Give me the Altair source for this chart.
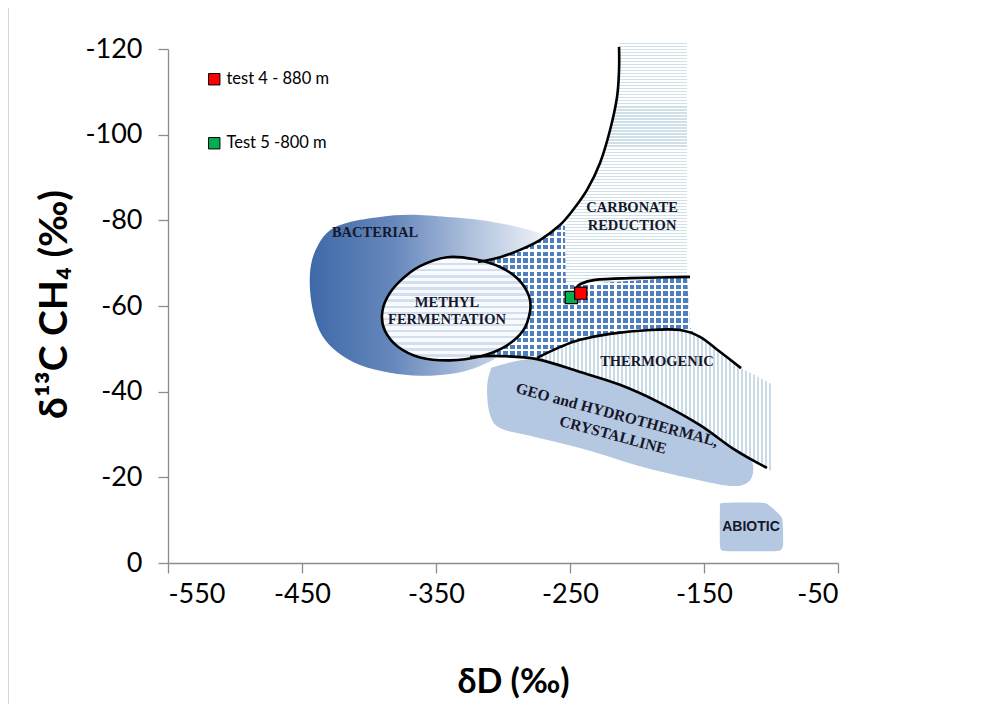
import altair as alt
import pandas as pd

# ---------------- axis ticks ----------------
x_ticks = [-550, -450, -350, -250, -150, -50]
y_ticks = [-120, -100, -80, -60, -40, -20, 0]

# ---------------- region outlines (dD, d13C) ----------------
bact_x = [-272.4, -292.5, -317.2, -341.8, -369.4, -391.8, -414.2, -429.1, -438.1, -443.3, -444.0, -441.0,
          -435.1, -423.9, -406.7, -384.3, -361.9, -339.6, -320.9, -302.2, -287.3, -272.4, -264.9, -266.4]
bact_y = [-77.0, -78.7, -80.1, -80.8, -81.3, -80.8, -79.6, -77.7, -74.2, -69.6, -63.7, -57.9,
          -53.2, -49.3, -46.2, -44.4, -43.7, -44.1, -45.5, -48.6, -54.4, -63.7, -70.7, -75.4]

dots_x = [-318.7, -302.2, -287.3, -272.4, -257.5, -253.7, -253.0, -242.5, -162.7, -160.4, -150.7,
          -167.9, -220.1, -274.6, -302.2, -324.6, -302.2]
dots_y = [-70.3, -71.4, -73.1, -75.4, -78.9, -78.7, -65.1, -65.1, -66.8, -54.9, -50.9,
          -53.9, -53.5, -47.9, -48.3, -48.1, -61.4]

carb_x = [-213.4, -162.7, -162.7, -242.5, -253.0, -253.7, -247.8, -237.3, -227.6, -220.1, -214.9, -213.4]
carb_y = [-121.4, -121.4, -66.8, -65.1, -65.1, -78.7, -82.4, -87.1, -93.4, -101.1, -108.8, -115.1]

thermo_x = [-274.6, -257.5, -242.5, -220.1, -190.3, -167.9, -153.0, -138.1, -122.4, -98.5, -98.5,
            -103.0, -126.9, -153.0, -182.8, -212.7, -242.5]
thermo_y = [-47.9, -50.4, -52.1, -53.5, -54.4, -54.4, -52.8, -49.3, -45.5, -41.6, -21.0,
            -22.2, -26.4, -32.2, -37.4, -41.6, -44.6]

geo_x = [-304.5, -274.6, -242.5, -197.8, -160.4, -130.6, -115.7, -113.4, -117.9, -130.6, -160.4,
         -197.8, -237.3, -279.9, -302.2, -309.7, -311.9, -309.7]
geo_y = [-46.0, -47.6, -44.6, -39.7, -33.9, -27.6, -24.5, -21.2, -18.7, -18.0, -19.8,
         -22.6, -26.4, -29.7, -31.5, -34.6, -40.4, -44.6]

abio_x = [-136.6, -104.5, -91.8, -91.0, -94.8, -135.1, -138.1, -138.1]
abio_y = [-14.0, -14.0, -10.5, -4.2, -2.8, -2.8, -4.2, -12.8]

meth_x = [-341.8, -320.9, -302.2, -288.8, -280.6, -279.9, -285.1, -298.5, -317.2, -339.6, -361.9,
          -378.4, -388.1, -390.3, -386.6, -376.9, -361.9]
meth_y = [-71.4, -70.9, -69.1, -66.3, -62.3, -58.6, -54.2, -50.5, -48.2, -47.3, -48.0,
          -50.5, -54.2, -57.9, -61.9, -65.8, -69.3]

# ---------------- boundary curves ----------------
carb_line_x = [-318.7, -302.2, -287.3, -272.4, -257.5, -247.8, -237.3, -227.6, -220.1, -214.9, -213.4, -213.4]
carb_line_y = [-70.3, -71.4, -73.1, -75.4, -78.9, -82.4, -87.1, -93.4, -101.1, -108.8, -115.1, -120.5]

short_line_x = [-245.5, -242.5, -231.3, -205.2, -160.4]
short_line_y = [-64.0, -65.1, -66.1, -66.5, -66.8]

thermo_line_x = [-274.6, -257.5, -242.5, -220.1, -190.3, -167.9, -153.0, -138.1, -122.4]
thermo_line_y = [-47.9, -50.4, -52.1, -53.5, -54.4, -54.4, -52.8, -49.3, -45.5]

geo_line_x = [-324.6, -302.2, -274.6, -242.5, -212.7, -182.8, -153.0, -126.9, -103.0]
geo_line_y = [-48.1, -48.3, -47.6, -44.6, -41.6, -37.4, -32.2, -26.4, -22.2]

# ---------------- labels ----------------
serif_labels = ["BACTERIAL", "METHYL", "FERMENTATION", "CARBONATE", "REDUCTION", "THERMOGENIC"]
serif_lx = [-395.5, -341.8, -341.8, -203.7, -203.7, -185.1]
serif_ly = [-77.0, -60.7, -56.7, -82.9, -78.7, -46.9]

geo_labels = ["GEO and HYDROTHERMAL,", "CRYSTALLINE"]
geo_lx = [-214.9, -217.9]
geo_ly = [-34.6, -29.9]

abio_label = ["ABIOTIC"]
abio_lx = [-114.9]
abio_ly = [-8.4]

# ---------------- samples ----------------
sample_names = ["test 4 - 880 m", "Test 5 -800 m"]
sample_dD = [-242, -249]
sample_d13C = [-63, -62]
sample_colors = ["#ff0000", "#00b050"]

# ---------------- encodings ----------------
AX_FONT = "Lato, Open Sans, DejaVu Sans"

X = alt.X("x:Q",
          scale=alt.Scale(domain=[-550, -50], nice=False, zero=False),
          axis=alt.Axis(values=x_ticks, title="δD (‰)", grid=False,
                        labelExpr="'' + datum.value", labelFontSize=27, labelFont=AX_FONT,
                        labelColor="black", labelPadding=8, tickSize=10, tickColor="#8c8c8c",
                        domainColor="#8c8c8c", domainWidth=1.3, tickWidth=1.3,
                        titleFont=AX_FONT, titleFontSize=34, titleFontWeight="bold",
                        titleColor="black", titleX=345, titleY=102, titleBaseline="top"))
Y = alt.Y("y:Q",
          scale=alt.Scale(domain=[-120, 0], nice=False, zero=False, reverse=True),
          axis=alt.Axis(values=y_ticks, title="δ¹³C CH₄ (‰)", grid=False,
                        labelExpr="'' + datum.value", labelFontSize=27, labelFont=AX_FONT,
                        labelColor="black", labelPadding=16, tickSize=10, tickColor="#8c8c8c",
                        domainColor="#8c8c8c", domainWidth=1.3, tickWidth=1.3,
                        titleFont=AX_FONT, titleFontSize=39, titleFontWeight="bold",
                        titleColor="black", titleX=-114, titleY=255, titleBaseline="middle"))


def frame(xs, ys):
    return pd.DataFrame({"x": xs, "y": ys, "i": list(range(len(xs)))})


def shape(xs, ys, **kw):
    return alt.Chart(frame(xs, ys)).mark_line(**kw).encode(x=X, y=Y, order=alt.Order("i:Q"))


def stripes(n, on, off, frac, horizontal_bands):
    """Fill style: n hard-edged bands across the shape's bounding box."""
    stops = []
    for k in range(n):
        a, b, c = k / n, (k + frac) / n, (k + 1) / n
        stops += [alt.GradientStop(color=on, offset=a), alt.GradientStop(color=on, offset=b),
                  alt.GradientStop(color=off, offset=b), alt.GradientStop(color=off, offset=c)]
    if horizontal_bands:
        return alt.Gradient(gradient="linear", x1=0, y1=0, x2=0, y2=1, stops=stops)
    return alt.Gradient(gradient="linear", x1=0, y1=0, x2=1, y2=0, stops=stops)


bact_grad = alt.Gradient(
    gradient="linear", x1=0, x2=1, y1=0, y2=0,
    stops=[alt.GradientStop(color="#3e69a8", offset=0),
           alt.GradientStop(color="#6788bd", offset=0.35),
           alt.GradientStop(color="#aabdda", offset=0.65),
           alt.GradientStop(color="#f4f7fb", offset=1)])

carb_fill = stripes(80, "#d0e0e9", "#ffffff", 0.4, True)
thermo_fill = stripes(59, "#c9dbe6", "#ffffff", 0.4, False)
meth_fill = stripes(17, "#d3dfee", "#f8fafd", 0.4, True)
dots_rows = stripes(20, "#4d7fc1", "#ffffff", 0.68, True)
dots_cols = stripes(35, "rgba(255,255,255,0)", "#ffffff", 0.68, False)

layers = [
    # light grey outer border of the figure (left side)
    alt.Chart(frame([0], [0])).mark_rule(color="#c8c8c8", strokeWidth=1.5).encode(
        x=alt.value(-160), y=alt.value(-41), y2=alt.value(656)),
    shape(bact_x, bact_y, interpolate="cardinal-closed", fill=bact_grad, strokeWidth=0),
    shape(dots_x, dots_y, interpolate="linear-closed", fill=dots_rows, strokeWidth=0),
    shape(dots_x, dots_y, interpolate="linear-closed", fill=dots_cols, strokeWidth=0),
    shape(carb_x, carb_y, interpolate="linear-closed", fill=carb_fill, strokeWidth=0),
    shape(thermo_x, thermo_y, interpolate="linear-closed", fill=thermo_fill, strokeWidth=0),
    shape(geo_x, geo_y, interpolate="cardinal-closed", fill="#b5c8e2", strokeWidth=0),
    shape(abio_x, abio_y, interpolate="cardinal-closed", tension=0.6, fill="#b5c8e2", strokeWidth=0),
    shape(meth_x, meth_y, interpolate="cardinal-closed", fill=meth_fill, stroke="black", strokeWidth=2.6),
    shape(carb_line_x, carb_line_y, interpolate="cardinal", stroke="black", strokeWidth=2.6),
    shape(short_line_x, short_line_y, interpolate="cardinal", stroke="black", strokeWidth=2.6),
    shape(thermo_line_x, thermo_line_y, interpolate="cardinal", stroke="black", strokeWidth=2.6),
    shape(geo_line_x, geo_line_y, interpolate="cardinal", stroke="black", strokeWidth=2.6),
]

serif_df = pd.DataFrame({"x": serif_lx, "y": serif_ly, "t": serif_labels})
layers.append(alt.Chart(serif_df).mark_text(font="Liberation Serif", fontWeight="bold", fontSize=14.5,
                                              color="#15172a").encode(x=X, y=Y, text="t:N"))
geo_df = pd.DataFrame({"x": geo_lx, "y": geo_ly, "t": geo_labels})
layers.append(alt.Chart(geo_df).mark_text(font="Liberation Serif", fontWeight="bold", fontSize=15.5,
                                            angle=15, color="#15172a").encode(x=X, y=Y, text="t:N"))
abio_df = pd.DataFrame({"x": abio_lx, "y": abio_ly, "t": abio_label})
layers.append(alt.Chart(abio_df).mark_text(font="Liberation Sans", fontWeight="bold", fontSize=14,
                                             color="#15172a").encode(x=X, y=Y, text="t:N"))

samples_df = pd.DataFrame({"x": sample_dD, "y": sample_d13C, "series": sample_names})
layers.append(
    alt.Chart(samples_df).mark_point(shape="square", filled=True, size=150, stroke="black",
                                     strokeWidth=1.2, opacity=1).encode(
        x=X, y=Y,
        color=alt.Color("series:N", sort=sample_names,
                        scale=alt.Scale(domain=sample_names, range=sample_colors),
                        legend=alt.Legend(title=None, orient="none", legendX=38, legendY=22,
                                          symbolType="square", symbolSize=130,
                                          symbolStrokeColor="black", symbolStrokeWidth=1,
                                          symbolOpacity=1,
                                          labelFont=AX_FONT, labelFontSize=16.5, labelColor="black",
                                          rowPadding=47, padding=0)),
        order=alt.Order("series:N", sort="ascending"))
)

chart = alt.layer(*layers).properties(
    width=670, height=514,
    padding={"left": 160, "top": 41, "right": 130, "bottom": 141},
    autosize=alt.AutoSizeParams(type="none"),
    background="white",
).configure_view(strokeWidth=0)

chart.save("out.html", embed_options={"renderer": "svg", "actions": False})
